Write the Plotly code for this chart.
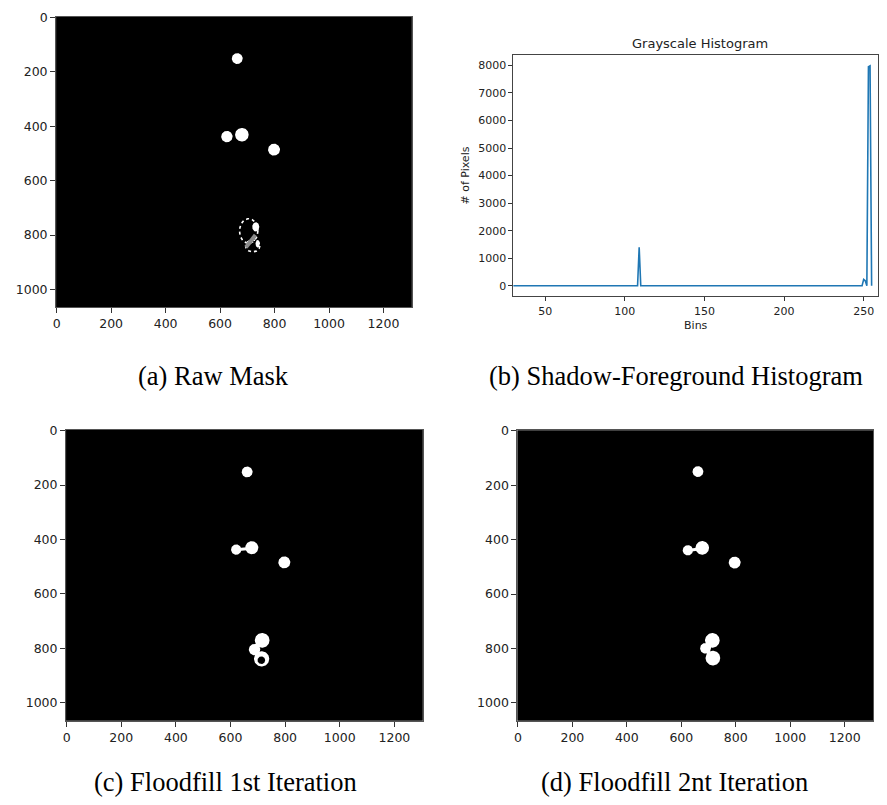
import numpy as np
import plotly.graph_objects as go

# ---------------- data ----------------
# (b) grayscale histogram (bin -> pixel count)
hist_bins = [0, 108, 109, 110, 249, 250, 251, 252, 253, 254, 255]
hist_counts = [0, 0, 1400, 0, 0, 230, 180, 0, 7950, 7980, 0]

# tick labels
mask_xticks = [0, 200, 400, 600, 800, 1000, 1200]
mask_yticks = [0, 200, 400, 600, 800, 1000]
hist_xticks = [50, 100, 150, 200, 250]
hist_yticks = [0, 1000, 2000, 3000, 4000, 5000, 6000, 7000, 8000]

# (a) raw mask: solid blobs (centre x, centre y, radius x, radius y) in image pixels
raw_blob_x = [663, 625, 680, 798, 731, 738]
raw_blob_y = [151, 438, 431, 486, 770, 832]
raw_blob_rx = [20, 21, 25, 22, 13, 8]
raw_blob_ry = [20, 21, 25, 22, 17, 14]
# (a) broken outlines of the lower object
raw_ring_x = [705, 720]
raw_ring_y = [785, 840]
raw_ring_rx = [34, 26]
raw_ring_ry = [45, 22]
# (a) grey shadow stroke
raw_grey_x = [695, 730]
raw_grey_y = [845, 800]

# (c) floodfill 1st iteration
ff1_blob_x = [661, 621, 678, 797, 714, 716, 688]
ff1_blob_y = [152, 437, 430, 484, 838, 770, 804]
ff1_blob_r = [20, 19, 24, 22, 28, 27, 21]
ff1_hole_x = [713]
ff1_hole_y = [843]
ff1_hole_r = [14]
ff1_bridge_x = [621, 678]
ff1_bridge_y = [438, 432]

# (d) floodfill 2nd iteration
ff2_blob_x = [661, 624, 677, 796, 714, 689, 716]
ff2_blob_y = [150, 439, 430, 484, 770, 799, 835]
ff2_blob_r = [20, 19, 25, 22, 27, 20, 27]
ff2_bridge_x = [624, 677]
ff2_bridge_y = [440, 432]

captions = ["(a) Raw Mask", "(b) Shadow-Foreground Histogram",
            "(c) Floodfill 1st Iteration", "(d) Floodfill 2nt Iteration"]

# ---------------- helpers ----------------
PAGE_MARGIN = 8          # default body margin of the html page
W, H = 887 - 2 * PAGE_MARGIN, 805 - 2 * PAGE_MARGIN
T = np.linspace(0, 2 * np.pi, 72)


def ellipses(cx, cy, rx, ry):
    xs, ys = [], []
    for a, b, c, d in zip(cx, cy, rx, ry):
        xs += list(a + c * np.cos(T)) + [None]
        ys += list(b + d * np.sin(T)) + [None]
    return xs, ys


def px(v):
    return (v - PAGE_MARGIN) / W


def py(v):
    return 1 - (v - PAGE_MARGIN) / H


def dom_x(l, r):
    return [max(0, px(l)), min(1, px(r))]


def dom_y(t, b):
    return [max(0, py(b)), min(1, py(t))]


def fill_trace(xs, ys, color, xa, ya):
    return go.Scatter(x=xs, y=ys, mode="lines", fill="toself", fillcolor=color,
                      line=dict(width=0, color=color), xaxis=xa, yaxis=ya,
                      hoverinfo="skip", showlegend=False)


fig = go.Figure()

# (a)
x, y = ellipses(raw_ring_x, raw_ring_y, raw_ring_rx, raw_ring_ry)
fig.add_trace(go.Scatter(x=x, y=y, mode="lines", line=dict(color="white", width=1.6, dash="dot"),
                         xaxis="x", yaxis="y", hoverinfo="skip", showlegend=False))
fig.add_trace(go.Scatter(x=raw_grey_x, y=raw_grey_y, mode="lines", line=dict(color="#8a8a8a", width=4),
                         xaxis="x", yaxis="y", hoverinfo="skip", showlegend=False))
x, y = ellipses(raw_blob_x, raw_blob_y, raw_blob_rx, raw_blob_ry)
fig.add_trace(fill_trace(x, y, "white", "x", "y"))

# (b)
fig.add_trace(go.Scatter(x=hist_bins, y=hist_counts, mode="lines",
                         line=dict(color="#1f77b4", width=1.6),
                         xaxis="x2", yaxis="y2", showlegend=False))

# (c)
fig.add_trace(go.Scatter(x=ff1_bridge_x, y=ff1_bridge_y, mode="lines", line=dict(color="white", width=3),
                         xaxis="x3", yaxis="y3", hoverinfo="skip", showlegend=False))
x, y = ellipses(ff1_blob_x[:5], ff1_blob_y[:5], ff1_blob_r[:5], ff1_blob_r[:5])
fig.add_trace(fill_trace(x, y, "white", "x3", "y3"))
x, y = ellipses(ff1_hole_x, ff1_hole_y, ff1_hole_r, ff1_hole_r)
fig.add_trace(fill_trace(x, y, "black", "x3", "y3"))
x, y = ellipses(ff1_blob_x[5:], ff1_blob_y[5:], ff1_blob_r[5:], ff1_blob_r[5:])
fig.add_trace(fill_trace(x, y, "white", "x3", "y3"))

# (d)
fig.add_trace(go.Scatter(x=ff2_bridge_x, y=ff2_bridge_y, mode="lines", line=dict(color="white", width=3),
                         xaxis="x4", yaxis="y4", hoverinfo="skip", showlegend=False))
x, y = ellipses(ff2_blob_x, ff2_blob_y, ff2_blob_r, ff2_blob_r)
fig.add_trace(fill_trace(x, y, "white", "x4", "y4"))

tick_font_mask = dict(family="DejaVu Sans", size=12.5, color="#222")
tick_font_hist = dict(family="DejaVu Sans", size=11, color="#222")


def mask_x(domain, anchor):
    return dict(domain=domain, anchor=anchor, range=[-2, 1304], tickvals=mask_xticks,
                showgrid=False, zeroline=False, ticks="outside", ticklen=5, tickcolor="#333",
                showline=True, linecolor="#555", linewidth=1, mirror=True, tickfont=tick_font_mask)


def mask_y(domain, anchor):
    return dict(domain=domain, anchor=anchor, range=[1065, -2], tickvals=mask_yticks,
                showgrid=False, zeroline=False, ticks="outside", ticklen=5, tickcolor="#333",
                showline=True, linecolor="#555", linewidth=1, mirror=True, tickfont=tick_font_mask)


fig.update_layout(
    width=W, height=H, margin=dict(l=0, r=0, t=0, b=0),
    paper_bgcolor="white", plot_bgcolor="white", showlegend=False,
    xaxis=mask_x(dom_x(53.3, 410.7), "y"),
    yaxis=mask_y(dom_y(10, 302.7), "x"),
    xaxis3=mask_x(dom_x(63.3, 421.7), "y3"),
    yaxis3=mask_y(dom_y(426.7, 720), "x3"),
    xaxis4=mask_x(dom_x(516.7, 874), "y4"),
    yaxis4=mask_y(dom_y(427, 720), "x4"),
    xaxis2=dict(domain=dom_x(512.7, 886.5), anchor="y2", range=[30, 259], tickvals=hist_xticks,
                showgrid=False, zeroline=False, ticks="outside", ticklen=4, tickcolor="#333",
                showline=True, linecolor="#444", linewidth=1, mirror=True, tickfont=tick_font_hist,
                title=dict(text="Bins", font=dict(family="DejaVu Sans", size=11, color="#222"), standoff=4)),
    yaxis2=dict(domain=dom_y(48, 292), anchor="x2", range=[-390, 8390], tickvals=hist_yticks,
                showgrid=False, zeroline=False, ticks="outside", ticklen=4, tickcolor="#333",
                showline=True, linecolor="#444", linewidth=1, mirror=True, tickfont=tick_font_hist,
                title=dict(text="# of Pixels", font=dict(family="DejaVu Sans", size=11, color="#222"), standoff=6)),
)

# black image backgrounds for the mask panels
for xr, yr in [("x", "y"), ("x3", "y3"), ("x4", "y4")]:
    fig.add_shape(type="rect", xref=xr + " domain", yref=yr + " domain", x0=0, x1=1, y0=0, y1=1,
                  fillcolor="black", line=dict(width=0), layer="below")

fig.add_annotation(text="Grayscale Histogram", x=px(700), y=py(37), xref="paper", yref="paper",
                   showarrow=False, xanchor="center", yanchor="middle",
                   font=dict(family="DejaVu Sans", size=13, color="#222"))

cap_pos = [(211, 372), (676, 372), (223, 782), (675, 782)]
for txt, (cx, cy) in zip(captions, cap_pos):
    fig.add_annotation(text=txt, x=px(cx), y=py(cy), xref="paper", yref="paper",
                       showarrow=False, xanchor="center", yanchor="middle",
                       font=dict(family="Liberation Serif", size=26.5, color="black"))

fig.write_html("out.html")
